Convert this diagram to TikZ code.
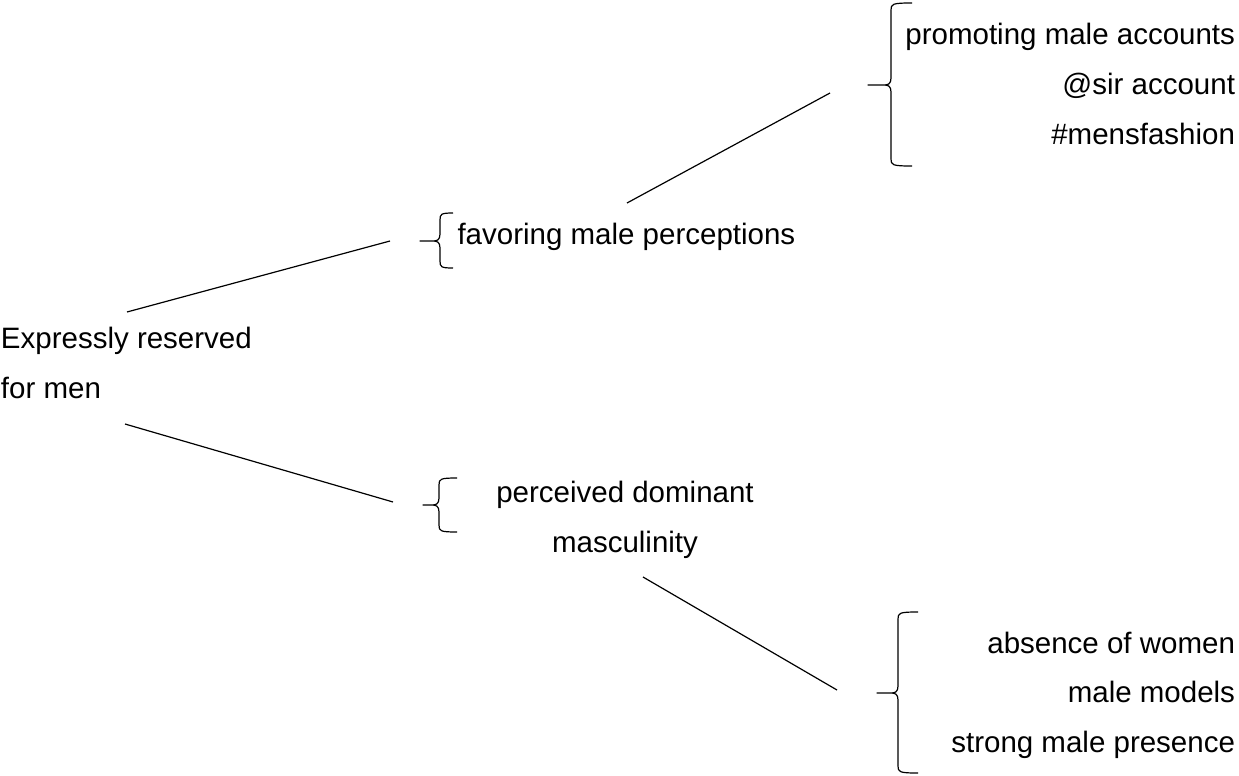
\documentclass[tikz,border=0pt]{standalone}
\usepackage{fontspec}
\setmainfont{Liberation Sans}
\newcommand\mybrace[6]{% #1 tip x, #2 mid y, #3 spine x, #4 top y, #5 bottom y, #6 hook end x
  \draw[bracestyle] (#6,#4) .. controls (#3+1,#4) and (#3,#4+1) .. (#3,#4+7)
    -- (#3,#2-7) .. controls (#3,#2-1) and (#3-3,#2) .. (#3-7,#2) -- (#1,#2)
    -- (#3-7,#2) .. controls (#3-3,#2) and (#3,#2+1) .. (#3,#2+7)
    -- (#3,#5-7) .. controls (#3,#5-1) and (#3+1,#5) .. (#6,#5);}
\begin{document}
\begin{tikzpicture}[x=1pt,y=-1pt,
  lbl/.style={inner sep=0pt,outer sep=0pt,font=\fontsize{29.5}{50}\selectfont,text=black},
  conn/.style={draw=black,line width=1.2pt},
  bracestyle/.style={draw=black,line width=1.2pt,line join=round}]
\useasboundingbox (0,0) rectangle (1239,776);
% texts
\node[lbl,anchor=base west] (expA) at (1,348) {Expressly reserved};
\node[lbl,anchor=base west] (expB) at (1,398) {for men};
\node[lbl,anchor=base west] (fav) at (457.5,244) {favoring male perceptions};
\node[lbl,anchor=base] (perA) at (625,502) {perceived dominant};
\node[lbl,anchor=base] (perB) at (625,552) {masculinity};
\node[lbl,anchor=base east] (tr1) at (1235,45) {promoting male accounts};
\node[lbl,anchor=base east] (tr2) at (1235,94.5) {@sir account};
\node[lbl,anchor=base east] (tr3) at (1235,144) {\#mensfashion};
\node[lbl,anchor=base east] (br1) at (1235,653) {absence of women};
\node[lbl,anchor=base east] (br2) at (1235,702.5) {male models};
\node[lbl,anchor=base east] (br3) at (1235,752) {strong male presence};
% connector end points
\coordinate (c1a) at (127,312);
\coordinate (c1b) at (390,241);
\coordinate (c2a) at (125,424);
\coordinate (c2b) at (393,502);
\coordinate (c3a) at (627,203);
\coordinate (c3b) at (830,93);
\coordinate (c4a) at (643,577);
\coordinate (c4b) at (837,690);
\draw[conn] (c1a) -- (c1b);
\draw[conn] (c2a) -- (c2b);
\draw[conn] (c3a) -- (c3b);
\draw[conn] (c4a) -- (c4b);
% braces
\mybrace{420}{241}{440}{213}{268}{453}
\mybrace{868}{85}{891}{3}{166}{912}
\mybrace{423}{505}{439}{478}{532}{457}
\mybrace{877}{693}{898}{612}{773}{918}
\end{tikzpicture}
\end{document}
